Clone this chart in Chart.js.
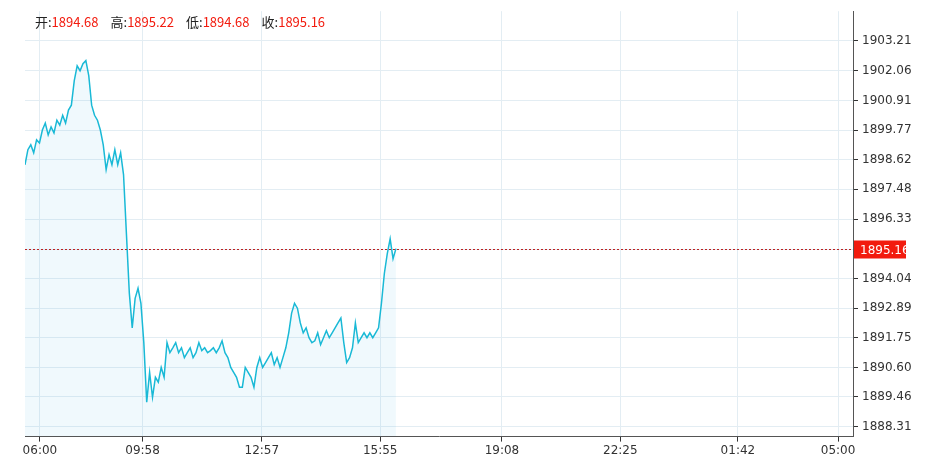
<!DOCTYPE html>
<html><head><meta charset="utf-8">
<script src="https://cdn.jsdelivr.net/npm/chart.js@4/dist/chart.umd.min.js"></script>
<style>html,body{margin:0;background:#fff}#wrap{width:933px;height:473px}</style>
</head><body><div id="wrap"><canvas id="c"></canvas></div>
<script>
const prices = [1898.43,1899.01,1899.20,1898.89,1899.39,1899.27,1899.77,1900.04,1899.58,1899.89,1899.66,1900.15,1899.96,1900.34,1900.04,1900.54,1900.73,1901.68,1902.25,1902.06,1902.33,1902.45,1901.87,1900.73,1900.34,1900.15,1899.77,1899.20,1898.24,1898.82,1898.43,1899.01,1898.43,1898.89,1898.05,1895.76,1893.47,1892.13,1893.27,1893.66,1893.08,1891.56,1889.26,1890.41,1889.45,1890.22,1890.03,1890.60,1890.22,1891.56,1891.17,1891.36,1891.56,1891.17,1891.36,1890.98,1891.17,1891.36,1890.98,1891.17,1891.56,1891.25,1891.36,1891.17,1891.25,1891.36,1891.17,1891.36,1891.63,1891.17,1890.98,1890.60,1890.41,1890.22,1889.84,1889.84,1890.60,1890.41,1890.22,1889.84,1890.60,1890.98,1890.60,1890.79,1890.98,1891.17,1890.71,1890.98,1890.60,1890.98,1891.36,1891.94,1892.70,1893.08,1892.89,1892.32,1891.94,1892.13,1891.75,1891.56,1891.63,1891.94,1891.48,1891.75,1892.02,1891.75,1891.94,1892.13,1892.32,1892.51,1891.56,1890.79,1890.98,1891.36,1892.32,1891.56,1891.75,1891.94,1891.75,1891.94,1891.75,1891.94,1892.13,1893.08,1894.23,1894.99,1895.57,1894.80,1895.19];
const yTicks = [1888.31,1889.46,1890.60,1891.75,1892.89,1894.04,1895.16,1896.33,1897.48,1898.62,1899.77,1900.91,1902.06,1903.21];
// tick positions as fraction of the full session width
const xTickFrac = [0.018,0.142,0.286,0.429,0.576,0.719,0.861,0.982];
const xTickLabels = ['06:00','09:58','12:57','15:55','19:08','22:25','01:42','05:00'];
const header = [['开','1894.68'],['高','1895.22'],['低','1894.68'],['收','1895.16']];
const lastPrice = 1895.16;
const sessionDone = 0.448; // share of the session covered by data

const xMax = (prices.length - 1) / sessionDone;
const pts = prices.map((v, i) => ({ x: i, y: v }));
const font = { family: 'Verdana, "DejaVu Sans", sans-serif', size: 12 };

const overlay = {
  id: 'overlay',
  afterDraw(chart) {
    const ctx = chart.ctx, a = chart.chartArea, y = chart.scales.y;
    ctx.save();
    const py = Math.round(y.getPixelForValue(lastPrice)) + 0.5;
    ctx.strokeStyle = '#b22'; ctx.lineWidth = 1; ctx.setLineDash([2, 2]);
    ctx.beginPath(); ctx.moveTo(a.left, py); ctx.lineTo(a.right, py); ctx.stroke();
    ctx.setLineDash([]);
    ctx.fillStyle = '#f21b0e'; ctx.fillRect(a.right + 1, py - 9, 52, 18);
    ctx.fillStyle = '#fff'; ctx.font = '12px Verdana, "DejaVu Sans", sans-serif';
    ctx.textBaseline = 'middle'; ctx.fillText(lastPrice.toFixed(2), a.right + 7, py + 1);
    let x = a.left + 10;
    ctx.font = '13px "Noto Sans CJK SC", sans-serif';
    header.forEach(([k, v]) => {
      ctx.fillStyle = '#222'; ctx.fillText(k + ':', x, 22); x += ctx.measureText(k + ':').width;
      ctx.fillStyle = '#f21b0e'; ctx.fillText(v, x, 22); x += ctx.measureText(v).width + 12;
    });
    ctx.restore();
  }
};

new Chart(document.getElementById('c'), {
  type: 'line',
  data: { datasets: [{ data: pts, borderColor: '#19b9d6', borderWidth: 1.5, pointRadius: 0, tension: 0,
    fill: 'origin', backgroundColor: 'rgba(60,180,225,0.08)' }] },
  options: {
    responsive: true, maintainAspectRatio: false, animation: false,
    layout: { padding: { top: 0, left: 25, right: 0, bottom: 13 } },
    plugins: { legend: { display: false }, tooltip: { enabled: false } },
    scales: {
      x: { type: 'linear', min: 0, max: xMax,
        afterBuildTicks: s => { s.ticks = xTickFrac.map(f => ({ value: f * xMax })); },
        ticks: { callback: (v, i) => xTickLabels[i], color: '#333', font, maxRotation: 0, autoSkip: false, padding: 2 },
        grid: { color: '#e3edf3', drawTicks: true, tickLength: 5, tickColor: '#333' },
        border: { color: '#555' } },
      y: { position: 'right', min: 1887.93, max: 1904.36,
        afterBuildTicks: s => { s.ticks = yTicks.map(v => ({ value: v })); },
        afterFit: s => { s.width = 80; },
        ticks: { callback: v => v === lastPrice ? '' : v.toFixed(2), color: '#333', font, padding: 4 },
        grid: { color: '#e3edf3', tickLength: 5, tickColor: '#333' },
        border: { color: '#555' } }
    }
  },
  plugins: [overlay]
});
</script></body></html>
